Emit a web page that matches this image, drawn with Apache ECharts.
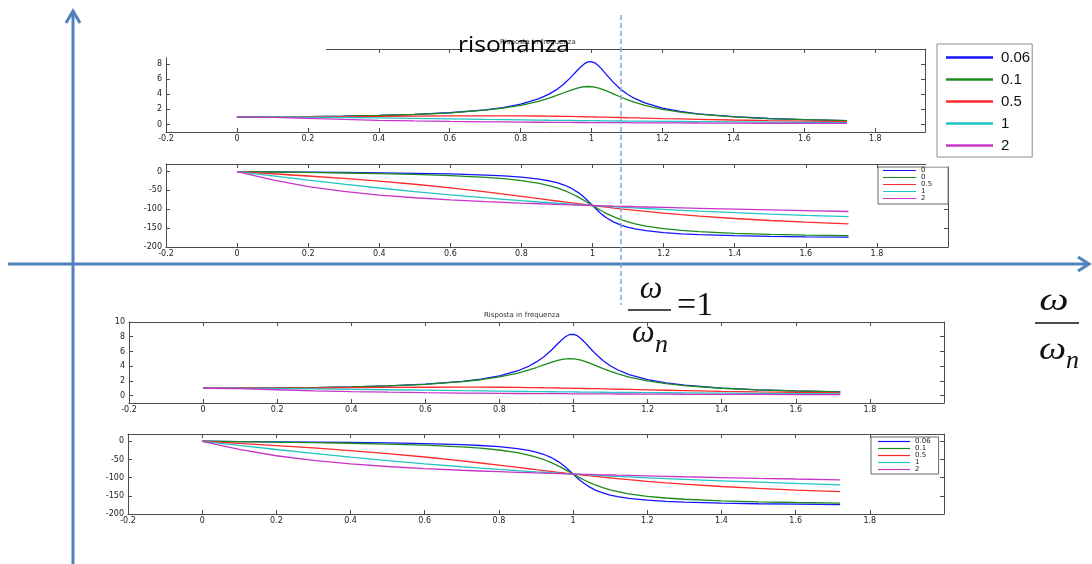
<!DOCTYPE html>
<html lang="it">
  <head>
    <meta charset="UTF-8" />
    <title>Risposta in frequenza</title>
    <script src="https://cdn.jsdelivr.net/npm/echarts@6.0.0/dist/echarts.min.js"></script>
    <style>
      * {
        padding: 0;
        margin: 0;
      }
      body {
        background: #fff;
      }
      #main {
        width: 1092px;
        height: 564px;
      }
    </style>
  </head>
  <body>
    <div id="main"></div>
    <script>
      // omega / omega_n
      var ratio = [0, 0.1, 0.2, 0.3, 0.4, 0.5, 0.6, 0.7, 0.75, 0.8, 0.85, 0.88, 0.9, 0.92, 0.94, 0.96, 0.97, 0.98, 0.99, 1.0,
        1.01, 1.02, 1.03, 1.04, 1.06, 1.08, 1.1, 1.12, 1.15, 1.2, 1.25, 1.3, 1.4, 1.5, 1.6, 1.72];

      // modulo
      var mag006 = [1, 1.01, 1.04, 1.1, 1.19, 1.33, 1.55, 1.94, 2.24, 2.68, 3.38, 4.02, 4.58, 5.29, 6.17, 7.18, 7.66, 8.06, 8.3, 8.33,
        8.14, 7.76, 7.26, 6.71, 5.64, 4.74, 4.03, 3.48, 2.85, 2.16, 1.72, 1.41, 1.03, 0.79, 0.64, 0.51];
      var mag01 = [1, 1.01, 1.04, 1.1, 1.19, 1.32, 1.54, 1.89, 2.16, 2.54, 3.07, 3.5, 3.82, 4.17, 4.52, 4.82, 4.93, 5.0, 5.03, 5.0,
        4.93, 4.81, 4.66, 4.48, 4.08, 3.67, 3.29, 2.95, 2.52, 2.0, 1.63, 1.36, 1.0, 0.78, 0.63, 0.5];
      var mag05 = [1, 1.01, 1.02, 1.04, 1.08, 1.11, 1.14, 1.15, 1.15, 1.14, 1.12, 1.1, 1.09, 1.07, 1.06, 1.04, 1.03, 1.02, 1.01, 1.0,
        0.99, 0.98, 0.97, 0.96, 0.94, 0.92, 0.89, 0.87, 0.84, 0.78, 0.73, 0.68, 0.59, 0.51, 0.45, 0.38];
      var mag1 = [1, 0.99, 0.96, 0.92, 0.86, 0.8, 0.74, 0.67, 0.64, 0.61, 0.58, 0.56, 0.55, 0.54, 0.53, 0.52, 0.515, 0.51, 0.505, 0.5,
        0.495, 0.49, 0.485, 0.48, 0.47, 0.46, 0.45, 0.44, 0.43, 0.41, 0.39, 0.37, 0.34, 0.31, 0.28, 0.25];
      var mag2 = [1, 0.94, 0.8, 0.66, 0.55, 0.47, 0.4, 0.35, 0.33, 0.31, 0.29, 0.28, 0.28, 0.27, 0.27, 0.26, 0.26, 0.26, 0.25, 0.25,
        0.25, 0.25, 0.24, 0.24, 0.24, 0.23, 0.23, 0.22, 0.22, 0.21, 0.2, 0.19, 0.18, 0.16, 0.15, 0.14];

      // fase (gradi)
      var ph006 = [0, -0.7, -1.4, -2.3, -3.3, -4.6, -6.4, -9.4, -11.6, -14.9, -20.2, -25.1, -29.6, -35.7, -44.1, -55.8, -63.1, -71.4, -80.5, -90,
        -99.4, -108.3, -116.2, -123.2, -134.2, -142.1, -147.8, -152.2, -156.8, -161.9, -165.1, -167.3, -170.1, -171.8, -173, -174];
      var ph01 = [0, -1.2, -2.4, -3.8, -5.4, -7.6, -10.6, -15.4, -18.9, -24, -31.5, -38, -43.5, -50.1, -58.2, -67.8, -73.1, -78.6, -84.3, -90,
        -95.7, -101.2, -106.5, -111.4, -120.2, -127.6, -133.7, -138.6, -144.5, -151.4, -156, -159.4, -163.7, -166.5, -168.4, -170];
      var ph05 = [0, -5.8, -11.8, -18.3, -25.5, -33.7, -43.2, -53.9, -59.7, -65.8, -71.9, -75.6, -78.1, -80.5, -82.9, -85.3, -86.5, -87.7, -88.8, -90,
        -91.1, -92.3, -93.4, -94.5, -96.7, -98.8, -100.8, -102.8, -105.7, -110.1, -114.2, -118, -124.4, -129.8, -134.3, -138.7];
      var ph1 = [0, -11.4, -22.6, -33.4, -43.6, -53.1, -61.9, -70, -73.7, -77.3, -80.7, -82.7, -84, -85.2, -86.5, -87.7, -88.3, -88.8, -89.4, -90,
        -90.6, -91.1, -91.7, -92.2, -93.3, -94.4, -95.5, -96.5, -98, -100.4, -102.7, -104.9, -108.9, -112.6, -116, -119.7];
      var ph2 = [0, -22, -39.8, -52.8, -62.3, -69.4, -75.1, -79.7, -81.7, -83.6, -85.3, -86.3, -87, -87.6, -88.2, -88.8, -89.1, -89.4, -89.7, -90,
        -90.3, -90.6, -90.8, -91.1, -91.7, -92.2, -92.7, -93.3, -94, -95.2, -96.4, -97.6, -99.7, -101.8, -103.7, -105.9];

      var zetaNames = ["0.06", "0.1", "0.5", "1", "2"];
      var xTicks = [-0.2, 0, 0.2, 0.4, 0.6, 0.8, 1, 1.2, 1.4, 1.6, 1.8];
      var magTicksTop = [0, 2, 4, 6, 8];
      var magTicks = [0, 2, 4, 6, 8, 10];
      var phaseTicks = [-200, -150, -100, -50, 0];

      var magSets = [mag006, mag01, mag05, mag1, mag2];
      var phaseSets = [ph006, ph01, ph05, ph1, ph2];
      var colors = ["#1414ff", "#1b8a1b", "#ff2a2a", "#22c4c4", "#c834c8"];
      var axisColor = "#4a4a4a";
      var lblFont = { fontFamily: "DejaVu Sans", fontSize: 8, color: "#222" };

      // le quattro finestre stile matlab
      var grids = [
        { left: 166, top: 49, width: 759, height: 83 },
        { left: 166, top: 164, width: 782, height: 83 },
        { left: 129, top: 322, width: 815, height: 81 },
        { left: 128, top: 434, width: 816, height: 80 },
      ];
      var xMax = [1.94, 2, 2, 2];
      var yRange = [[-1, 10], [-200, 20], [-1, 10], [-200, 20]];
      var yTickSets = [magTicksTop, phaseTicks, magTicks, phaseTicks];
      var ySets = [magSets, phaseSets, magSets, phaseSets];

      var xAxes = [];
      var yAxes = [];
      var series = [];

      function makeAxis(pos, gi, min, max, ticks, showLabel) {
        return {
          type: "value",
          gridIndex: gi,
          position: pos,
          min: min,
          max: max,
          splitLine: { show: false },
          axisLine: { show: true, onZero: false, lineStyle: { color: axisColor, width: 1 } },
          axisTick: { show: true, inside: true, length: 4, customValues: ticks, lineStyle: { color: axisColor } },
          axisLabel: Object.assign(
            { show: showLabel, customValues: ticks, margin: pos === "left" ? 4 : 3 },
            lblFont
          ),
        };
      }

      for (var g = 0; g < 4; g++) {
        xAxes.push(makeAxis("bottom", g, -0.2, xMax[g], xTicks, true));
        yAxes.push(makeAxis("left", g, yRange[g][0], yRange[g][1], yTickSets[g], true));
      }
      for (var g2 = 0; g2 < 4; g2++) {
        xAxes.push(makeAxis("top", g2, -0.2, xMax[g2], xTicks, false));
        yAxes.push(makeAxis("right", g2, yRange[g2][0], yRange[g2][1], yTickSets[g2], false));
      }

      for (var gi = 0; gi < 4; gi++) {
        for (var k = 0; k < 5; k++) {
          var vals = ySets[gi][k];
          series.push({
            name: zetaNames[k],
            type: "line",
            xAxisIndex: gi,
            yAxisIndex: gi,
            showSymbol: false,
            silent: true,
            lineStyle: { color: colors[k], width: 1.3 },
            itemStyle: { color: colors[k] },
            data: ratio.map(function (u, i) {
              return [u, vals[i]];
            }),
          });
        }
      }

      var zeroNames = { "0.06": "0", "0.1": "0" };
      var blue = "#4f81bd";

      var myChart = echarts.init(document.getElementById("main"));
      var option = {
        animation: false,
        backgroundColor: "#ffffff",
        title: [
          {
            text: "Risposta in frequenza",
            left: 500,
            top: 39,
            padding: 0,
            textStyle: { fontFamily: "DejaVu Sans", fontSize: 7, fontWeight: "normal", color: "#333" },
          },
          {
            text: "Risposta in frequenza",
            left: 484,
            top: 312,
            padding: 0,
            textStyle: { fontFamily: "DejaVu Sans", fontSize: 7, fontWeight: "normal", color: "#333" },
          },
        ],
        legend: [
          {
            data: zetaNames,
            orient: "vertical",
            left: 937,
            top: 44,
            padding: [6, 2, 4, 9],
            itemGap: 7,
            itemWidth: 47,
            itemHeight: 2.5,
            icon: "rect",
            backgroundColor: "#fff",
            borderColor: "#8c8c8c",
            borderWidth: 1,
            borderRadius: 0,
            selectedMode: false,
            z: 20,
            textStyle: { fontFamily: "Liberation Sans", fontSize: 15, lineHeight: 14, color: "#111", padding: [0, 0, 0, 3] },
          },
          {
            data: zetaNames,
            orient: "vertical",
            left: 878,
            top: 167,
            padding: [0, 16, 2, 5],
            itemGap: 0,
            itemWidth: 33,
            itemHeight: 1.2,
            icon: "rect",
            backgroundColor: "#fff",
            borderColor: "#666",
            borderWidth: 1,
            borderRadius: 0,
            selectedMode: false,
            z: 20,
            formatter: function (name) {
              return zeroNames[name] || name;
            },
            textStyle: { fontFamily: "DejaVu Sans", fontSize: 7, lineHeight: 6.5, color: "#222" },
          },
          {
            data: zetaNames,
            orient: "vertical",
            left: 871,
            top: 437,
            padding: [1, 8, 1, 7],
            itemGap: 0,
            itemWidth: 32,
            itemHeight: 1.2,
            icon: "rect",
            backgroundColor: "#fff",
            borderColor: "#666",
            borderWidth: 1,
            borderRadius: 0,
            selectedMode: false,
            z: 20,
            textStyle: { fontFamily: "DejaVu Sans", fontSize: 7, lineHeight: 6.2, color: "#222" },
          },
        ],
        grid: grids,
        xAxis: xAxes,
        yAxis: yAxes,
        series: series,
        graphic: [
          // toppe bianche sopra i bordi
          { type: "rect", z: 50, shape: { x: 140, y: 38, width: 186, height: 19.5 }, style: { fill: "#fff" } },
          { type: "rect", z: 50, shape: { x: 926, y: 158, width: 26, height: 8.5 }, style: { fill: "#fff" } },
          // assi grandi
          { type: "line", z: 60, shape: { x1: 73, y1: 564, x2: 73, y2: 12 }, style: { stroke: blue, lineWidth: 3 } },
          { type: "polyline", z: 60, shape: { points: [[66, 23], [73, 11], [80, 23]] }, style: { stroke: blue, lineWidth: 3, fill: null } },
          { type: "line", z: 60, shape: { x1: 8, y1: 264, x2: 1088, y2: 264 }, style: { stroke: blue, lineWidth: 3 } },
          { type: "polyline", z: 60, shape: { points: [[1078, 257], [1089, 264], [1078, 271]] }, style: { stroke: blue, lineWidth: 3, fill: null } },
          // risonanza
          { type: "line", z: 60, shape: { x1: 621, y1: 15, x2: 621, y2: 305 }, style: { stroke: "#7ba4d6", lineWidth: 1.5, lineDash: [5, 3] } },
          {
            type: "text", z: 70, x: 458, y: 46, scaleX: 1.12,
            style: { text: "risonanza", fontFamily: "Open Sans", fontSize: 22, fill: "#000", align: "left", verticalAlign: "middle" },
          },
          // omega / omega_n = 1
          {
            type: "text", z: 70, x: 651, y: 290,
            style: { text: "ω", fontFamily: "Liberation Serif", fontStyle: "italic", fontSize: 32, fill: "#111", align: "center", verticalAlign: "middle" },
          },
          { type: "line", z: 70, shape: { x1: 628, y1: 310, x2: 671, y2: 310 }, style: { stroke: "#111", lineWidth: 1.5 } },
          {
            type: "text", z: 70, x: 677, y: 306,
            style: { text: "=1", fontFamily: "Liberation Serif", fontSize: 34, fill: "#111", align: "left", verticalAlign: "middle" },
          },
          {
            type: "text", z: 70, x: 632, y: 334,
            style: { text: "ω", fontFamily: "Liberation Serif", fontStyle: "italic", fontSize: 32, fill: "#111", align: "left", verticalAlign: "middle" },
          },
          {
            type: "text", z: 70, x: 655, y: 345,
            style: { text: "n", fontFamily: "Liberation Serif", fontStyle: "italic", fontSize: 26, fill: "#111", align: "left", verticalAlign: "middle" },
          },
          // omega / omega_n a destra
          {
            type: "text", z: 70, x: 1054, y: 302, scaleX: 1.3,
            style: { text: "ω", fontFamily: "Liberation Serif", fontStyle: "italic", fontSize: 32, fill: "#111", align: "center", verticalAlign: "middle" },
          },
          { type: "line", z: 70, shape: { x1: 1035, y1: 323, x2: 1079, y2: 323 }, style: { stroke: "#111", lineWidth: 1.5 } },
          {
            type: "text", z: 70, x: 1039, y: 351, scaleX: 1.2,
            style: { text: "ω", fontFamily: "Liberation Serif", fontStyle: "italic", fontSize: 32, fill: "#111", align: "left", verticalAlign: "middle" },
          },
          {
            type: "text", z: 70, x: 1066, y: 361,
            style: { text: "n", fontFamily: "Liberation Serif", fontStyle: "italic", fontSize: 26, fill: "#111", align: "left", verticalAlign: "middle" },
          },
        ],
      };
      myChart.setOption(option);
    </script>
  </body>
</html>
